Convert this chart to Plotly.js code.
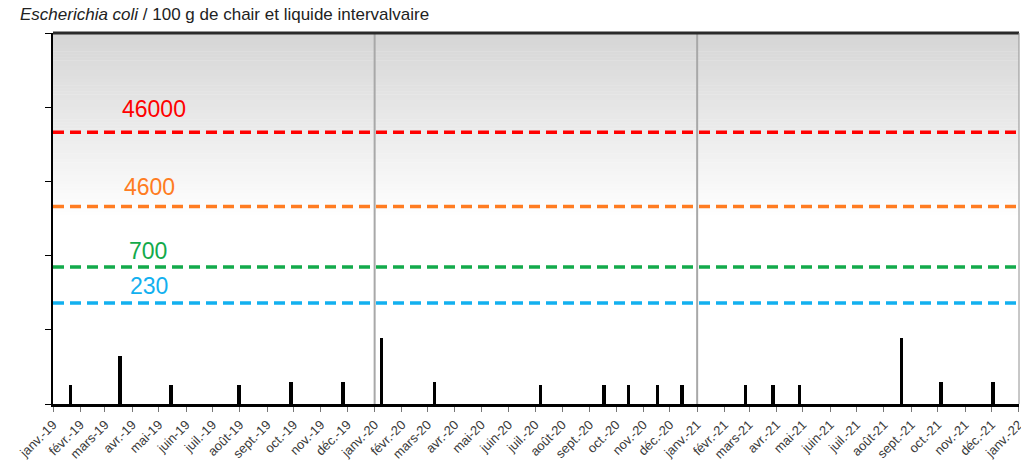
<!DOCTYPE html>
<html>
<head>
<meta charset="utf-8">
<script src="https://cdn.plot.ly/plotly-3.0.1.min.js"></script>
<style>
  html, body { margin: 0; padding: 0; background: #ffffff; }
  #chart { width: 1021px; height: 465px; }
</style>
</head>
<body>
<div id="chart"></div>
<script>
// ---------- data ----------
const sampleDates = [
  "2019-01-21", "2019-03-18", "2019-05-15", "2019-07-31", "2019-09-28", "2019-11-26",
  "2020-01-09", "2020-03-09", "2020-07-07", "2020-09-17", "2020-10-15", "2020-11-17", "2020-12-15",
  "2021-02-25", "2021-03-28", "2021-04-27", "2021-08-21", "2021-10-05", "2021-12-03"
];
const ecoliValues = [
  18, 45, 18, 18, 20, 20,
  78, 20, 18, 18, 18, 18, 18,
  18, 18, 18, 78, 20, 20
];
const thresholdValues = [46000, 4600, 700, 230];
const thresholdLabels = ["46000", "4600", "700", "230"];
const thresholdColors = ["#ff0000", "#ff7c21", "#13aa4b", "#12b0ef"];
const xRange = ["2019-01-01", "2022-01-01 06:00"];
const yearDividers = ["2020-01-01", "2021-01-01"];
const monthNames = ["janv.", "févr.", "mars", "avr.", "mai", "juin", "juil.", "août", "sept.", "oct.", "nov.", "déc."];
const years = [2019, 2020, 2021, 2022];
const yTickVals = [10, 100, 1000, 10000, 100000, 1000000];

// ---------- tick labels ----------
const tickVals = [];
const tickText = [];
years.forEach(function (y) {
  monthNames.forEach(function (m, i) {
    if (y === 2022 && i > 0) return;
    tickVals.push(y + "-" + String(i + 1).padStart(2, "0") + "-01");
    tickText.push(m + "-" + String(y).slice(2));
  });
});

const FONT = "Liberation Sans, Arial, Helvetica, sans-serif";

// ---------- traces ----------
const traces = [];
thresholdValues.forEach(function (v, i) {
  traces.push({
    type: "scatter", mode: "lines",
    x: xRange, y: [v, v],
    line: { color: thresholdColors[i], width: 3.5, dash: "11px,6px" },
    hoverinfo: "skip", showlegend: false
  });
});
traces.push({
  type: "bar",
  x: sampleDates, y: ecoliValues,
  width: 4 * 86400000,
  marker: { color: "#000000", line: { width: 0 } },
  showlegend: false
});

// ---------- background gradient bands (style) ----------
const shapes = [];
const gradTop = 1.0, gradBottom = 0.50, nBands = 60;
for (let k = 0; k < nBands; k++) {
  const y1 = gradTop - (gradTop - gradBottom) * k / nBands;
  const y0 = gradTop - (gradTop - gradBottom) * (k + 1) / nBands;
  const t = (k + 0.5) / nBands;
  const c = Math.round(213 + (255 - 213) * t);
  shapes.push({
    type: "rect", xref: "paper", yref: "paper", x0: 0, x1: 1, y0: y0, y1: y1 + 0.001,
    fillcolor: "rgb(" + c + "," + c + "," + c + ")", line: { width: 0 }, layer: "below"
  });
}
yearDividers.forEach(function (d) {
  shapes.push({
    type: "line", xref: "x", yref: "paper", x0: d, x1: d, y0: 0, y1: 1,
    line: { color: "#a8a8a8", width: 2 }, layer: "below"
  });
});
shapes.push({ type: "line", xref: "paper", yref: "paper", x0: 0, x1: 1, y0: 1, y1: 1,
  line: { color: "#2a2a2a", width: 3 } });
shapes.push({ type: "line", xref: "paper", yref: "paper", x0: 1, x1: 1, y0: 0, y1: 1,
  line: { color: "#909090", width: 1 } });

// ---------- threshold labels ----------
const labelX = [0.105, 0.0995, 0.098, 0.099];
const labelShift = [8, 4, 1, 1.5];
const annotations = thresholdValues.map(function (v, i) {
  return {
    xref: "paper", yref: "y", x: labelX[i], y: Math.log10(v),
    xanchor: "center", yanchor: "bottom", yshift: labelShift[i],
    text: thresholdLabels[i], showarrow: false,
    font: { family: FONT, size: 23, color: thresholdColors[i] }
  };
});

const layout = {
  width: 1021, height: 465,
  margin: { l: 53, r: 2, t: 33, b: 61 },
  paper_bgcolor: "#ffffff", plot_bgcolor: "#ffffff",
  font: { family: FONT, color: "#333333" },
  title: {
    text: "<i>Escherichia coli</i> / 100 g de chair et liquide intervalvaire",
    font: { family: FONT, size: 17, color: "#222222" },
    xref: "container", yref: "container",
    x: 20 / 1021, xanchor: "left", y: 1 - 14 / 465, yanchor: "middle"
  },
  xaxis: {
    type: "date", range: xRange,
    tickmode: "array", tickvals: tickVals, ticktext: tickText,
    tickangle: -45, tickfont: { family: FONT, size: 13, color: "#3a3a3a" },
    ticklabeloverflow: "allow",
    ticks: "outside", ticklen: 5, tickwidth: 1, tickcolor: "#777777",
    showline: true, linecolor: "#000000", linewidth: 3,
    showgrid: false, zeroline: false, automargin: false, fixedrange: true
  },
  yaxis: {
    type: "log", range: [1, 6],
    tickmode: "array", tickvals: yTickVals,
    showticklabels: false,
    ticks: "outside", ticklen: 6, tickwidth: 1, tickcolor: "#000000",
    showline: true, linecolor: "#000000", linewidth: 2,
    showgrid: false, zeroline: false, automargin: false, fixedrange: true
  },
  bargap: 0,
  shapes: shapes,
  annotations: annotations,
  showlegend: false
};

Plotly.newPlot("chart", traces, layout, { displayModeBar: false, staticPlot: true });
</script>
</body>
</html>
